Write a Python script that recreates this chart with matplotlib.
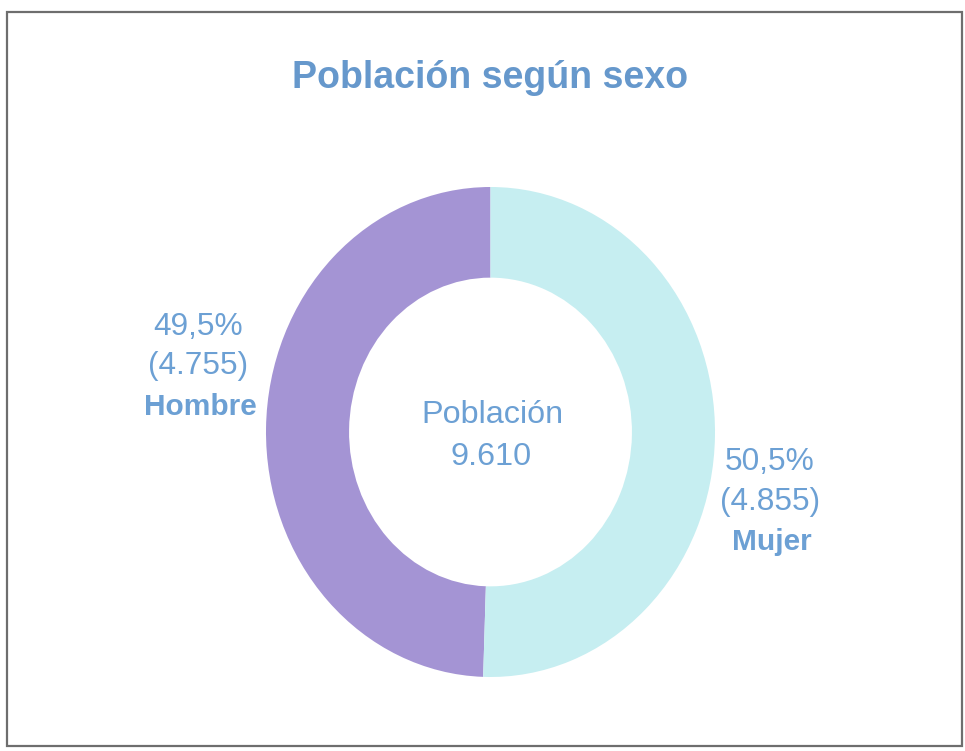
import matplotlib
matplotlib.use("Agg")
import matplotlib.pyplot as plt
from matplotlib.patches import Rectangle

# ---- data ----
categories = ["Hombre", "Mujer"]
values = [4755, 4855]
colors = ["#A494D4", "#C6EEF1"]
title = "Población según sexo"
center_label = "Población"

total = sum(values)

def fmt_int(v):
    return f"{v:,}".replace(",", ".")

def fmt_pct(v):
    return f"{100 * v / total:.1f}%".replace(".", ",")

W, H = 965, 751
fig = plt.figure(figsize=(W / 100, H / 100), dpi=100)
fig.patch.set_facecolor("white")

# donut axes (slightly taller than wide, as in the reference)
left, right, top, bottom = 266, 715, 187, 677
ax = fig.add_axes([left / W, (H - bottom) / H, (right - left) / W, (bottom - top) / H])
ax.pie(values, colors=colors, startangle=90, counterclock=True, radius=1.0,
       wedgeprops=dict(width=0.37, edgecolor="none", linewidth=0))
ax.set_aspect("auto")
ax.set_xlim(-1, 1)
ax.set_ylim(-1, 1)
ax.axis("off")

# overlay axes in pixel coordinates for text and frame
ov = fig.add_axes([0, 0, 1, 1], facecolor="none")
ov.set_xlim(0, W)
ov.set_ylim(H, 0)
ov.axis("off")

ov.add_patch(Rectangle((7, 12), 955, 734, fill=False, edgecolor="#6e6e6e", linewidth=1.6))

txt_color = "#6CA0D4"
fam = ["Liberation Sans", "DejaVu Sans"]

ov.text(490, 88, title, ha="center", va="baseline", fontsize=27, fontweight="bold",
        color="#6698CC", family=fam)

# center label
ov.text(492, 423, center_label, ha="center", va="baseline", fontsize=23.3, color=txt_color, family=fam)
ov.text(491, 465, fmt_int(total), ha="center", va="baseline", fontsize=23.3, color=txt_color, family=fam)

# slice labels
label_pos = {"Hombre": (198, [335, 374, 415]), "Mujer": (770, [470, 510, 550])}
for cat, v in zip(categories, values):
    x, ys = label_pos[cat]
    ov.text(x, ys[0], fmt_pct(v), ha="center", va="baseline", fontsize=22.8, color=txt_color, family=fam)
    ov.text(x, ys[1], f"({fmt_int(v)})", ha="center", va="baseline", fontsize=22.8, color=txt_color, family=fam)
    ov.text(x + 2, ys[2], cat, ha="center", va="baseline", fontsize=21.5, fontweight="bold", color=txt_color, family=fam)

fig.savefig("out.png", dpi=100, facecolor="white")
